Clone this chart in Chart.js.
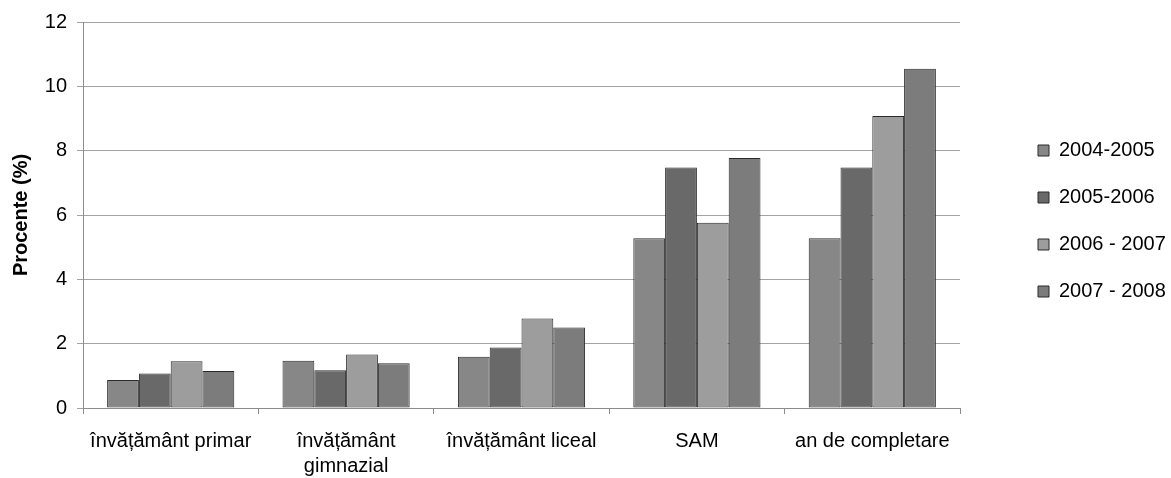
<!DOCTYPE html>
<html>
<head>
<meta charset="utf-8">
<script src="https://cdn.jsdelivr.net/npm/chart.js@4.4.1/dist/chart.umd.min.js"></script>
<style>
  html, body { margin: 0; padding: 0; background: #ffffff; }
  #c { display: block; }
</style>
</head>
<body>
<canvas id="c" width="1171" height="478"></canvas>
<script>
const categories = ['învățământ primar', ['învățământ', 'gimnazial'], 'învățământ liceal', 'SAM', 'an de completare'];
const seriesNames = ['2004-2005', '2005-2006', '2006 - 2007', '2007 - 2008'];
const s2004 = [0.87, 1.47, 1.59, 5.28, 5.28];
const s2005 = [1.07, 1.17, 1.88, 7.48, 7.48];
const s2006 = [1.45, 1.66, 2.78, 5.76, 9.08];
const s2007 = [1.15, 1.39, 2.50, 7.77, 10.55];
const seriesValues = [s2004, s2005, s2006, s2007];
const seriesColors = ['#878787', '#696969', '#9d9d9d', '#7c7c7c'];
const yTitle = 'Procente (%)';
const yMin = 0, yMax = 12, yStep = 2;

const FONT = '"Liberation Sans", Arial, sans-serif';

const datasets = seriesNames.map((name, i) => ({
  label: name,
  data: seriesValues[i],
  backgroundColor: seriesColors[i],
  borderColor: '#2a2a2a',
  borderWidth: 1,
  borderSkipped: false,
  categoryPercentage: 0.725,
  barPercentage: 1.0
}));

new Chart(document.getElementById('c'), {
  type: 'bar',
  data: { labels: categories, datasets },
  options: {
    responsive: false,
    animation: false,
    devicePixelRatio: 1,
    layout: { padding: { top: 21, left: 0, right: 0, bottom: 0 } },
    plugins: {
      tooltip: { enabled: false },
      legend: {
        position: 'right',
        fullSize: false,
        maxWidth: 160,
        title: { display: true, text: '', padding: 0, font: { size: 10, family: FONT } },
        labels: {
          boxWidth: 11,
          boxHeight: 11,
          padding: 27,
          color: '#000000',
          font: { size: 20, family: FONT }
        }
      }
    },
    scales: {
      x: {
        grid: {
          offset: true,
          drawOnChartArea: false,
          drawTicks: true,
          tickLength: 6,
          color: '#8c8c8c'
        },
        border: { display: true, color: '#8c8c8c', width: 1 },
        ticks: {
          color: '#000000',
          padding: 15,
          maxRotation: 0,
          autoSkip: false,
          font: { size: 20, family: FONT, lineHeight: 1.25 }
        },
        afterFit: (scale) => { scale.height = 70; }
      },
      y: {
        min: yMin,
        max: yMax,
        grid: { color: '#a3a3a3', tickLength: 6, drawTicks: true },
        border: { display: true, color: '#8c8c8c', width: 1 },
        ticks: {
          stepSize: yStep,
          color: '#000000',
          padding: 10,
          font: { size: 20, family: FONT }
        },
        title: {
          display: true,
          text: yTitle,
          color: '#000000',
          padding: { top: 9, bottom: 2 },
          font: { size: 20, weight: 'bold', family: FONT }
        },
        afterFit: (scale) => { scale.width = 83; }
      },
      gap: {
        type: 'linear',
        position: 'right',
        display: true,
        grid: { display: false, drawTicks: false },
        border: { display: false },
        ticks: { display: false },
        afterFit: (scale) => { scale.width = 51; }
      }
    }
  }
});
</script>
</body>
</html>
